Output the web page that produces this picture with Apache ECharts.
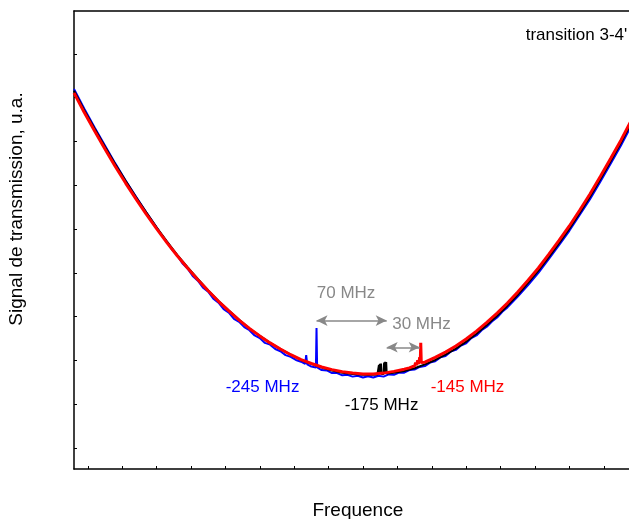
<!DOCTYPE html>
<html><head><meta charset="utf-8">
<script src="https://cdn.jsdelivr.net/npm/echarts@6/dist/echarts.min.js"></script>
<style>html,body{margin:0;padding:0;background:#fff}#c{width:629px;height:519px}</style>
</head><body><div id="c"></div>
<script>
// Frequency (MHz) / signal (u.a.) pairs
const blueCurve = [
[-480,9.20],[-470,8.75],[-460,8.32],[-450,7.91],[-440,7.50],[-430,7.11],[-420,6.74],[-410,6.38],
[-400,6.04],[-395,5.86],[-390,5.71],[-385,5.53],[-380,5.40],[-375,5.22],[-370,5.10],[-365,4.93],
[-360,4.82],[-355,4.66],[-350,4.57],[-345,4.41],[-340,4.32],[-335,4.17],[-330,4.09],[-325,3.95],
[-320,3.88],[-315,3.76],[-310,3.69],[-305,3.57],[-300,3.51],[-295,3.40],[-290,3.36],[-285,3.26],
[-280,3.21],[-275,3.12],[-270,3.08],[-265,3.01],[-260,2.97],[-256,2.92],[-255,3.12],[-254,2.91],
[-250,2.86],[-245.6,2.84],[-245,3.74],[-244.4,2.84],[-240,2.78],[-235,2.77],[-230,2.71],[-225,2.71],
[-220,2.66],[-215,2.67],[-210,2.63],[-205,2.65],[-200,2.61],[-195,2.64],[-190,2.61],[-185,2.65],
[-180,2.63],[-175,2.68],[-170,2.67],[-165,2.72],[-160,2.72],[-155,2.78],[-150,2.79],[-145,2.85],
[-140,2.87],[-135,2.95],[-130,2.98],[-125,3.07],[-120,3.10],[-115,3.20],[-110,3.24],[-105,3.34],
[-100,3.39],[-95,3.51],[-90,3.57],[-85,3.69],[-80,3.77],[-75,3.89],[-70,3.98],[-65,4.11],[-60,4.21],
[-50,4.46],[-40,4.72],[-30,5.00],[-20,5.31],[-10,5.63],[0,5.96],[10,6.32],[20,6.68],[30,7.08],
[40,7.49],[50,7.91],[60,8.36],[70,8.82]
];
const blackCurve = [
[-480,9.16],[-470,8.71],[-460,8.29],[-450,7.88],[-440,7.48],[-430,7.10],[-420,6.73],[-410,6.38],
[-400,6.04],[-390,5.72],[-380,5.41],[-370,5.13],[-360,4.86],[-350,4.60],[-340,4.36],[-330,4.14],
[-320,3.93],[-310,3.73],[-300,3.56],[-290,3.40],[-280,3.26],[-270,3.13],[-260,3.01],[-250,2.92],
[-240,2.84],[-230,2.77],[-220,2.72],[-210,2.69],[-200,2.67],[-190,2.67],[-186,2.68],[-185,2.68],
[-184.5,2.90],[-184,2.69],[-183.5,2.92],[-183,2.69],[-182.5,2.93],[-182,2.69],[-180,2.69],
[-179.5,2.95],[-179,2.70],[-178.5,2.97],[-178,2.70],[-177.5,2.96],[-177,2.70],[-176,2.70],
[-170,2.72],[-160,2.76],[-150,2.82],[-140,2.91],[-130,3.01],[-120,3.13],[-110,3.27],[-100,3.43],
[-90,3.61],[-80,3.81],[-70,4.02],[-60,4.25],[-50,4.50],[-40,4.77],[-30,5.05],[-20,5.36],[-10,5.68],
[0,6.01],[10,6.37],[20,6.74],[30,7.14],[40,7.55],[50,7.97],[60,8.42],[70,8.88]
];
const redCurve = [
[-480,9.11],[-470,8.66],[-460,8.24],[-450,7.83],[-440,7.43],[-430,7.05],[-420,6.69],[-410,6.34],
[-400,6.01],[-390,5.69],[-380,5.39],[-370,5.11],[-360,4.84],[-350,4.59],[-340,4.35],[-330,4.13],
[-320,3.92],[-310,3.73],[-300,3.56],[-290,3.40],[-280,3.26],[-270,3.13],[-260,3.02],[-250,2.93],
[-240,2.85],[-230,2.79],[-220,2.74],[-210,2.71],[-200,2.69],[-190,2.69],[-180,2.71],[-170,2.75],
[-160,2.80],[-155,2.83],[-152,2.86],[-150,2.87],[-149,2.95],[-148,2.89],[-147,3.00],[-146,2.92],
[-145,3.07],[-144.5,2.94],[-144,3.40],[-143.5,2.95],[-143,2.93],[-140,2.96],[-130,3.07],[-120,3.19],
[-110,3.33],[-100,3.49],[-90,3.67],[-80,3.87],[-70,4.08],[-60,4.31],[-50,4.56],[-40,4.83],[-30,5.11],
[-20,5.42],[-10,5.74],[0,6.07],[10,6.43],[20,6.80],[30,7.20],[40,7.61],[50,8.03],[60,8.48],[70,8.94]
];
const xTicks = [-466.67,-433.33,-400,-366.67,-333.33,-300,-266.67,-233.33,-200,-166.67,-133.33,-100,-66.67,-33.33,0,33.33,66.67];
const yTicks = [1,2,3,4,5,6,7,8,9,10];
// annotations: text labels
const annoText = ['-245 MHz','-175 MHz','-145 MHz','70 MHz','30 MHz',"transition 3-4'"];
const annoF = [-297.3,-182,-98.7,-216.4,-143.3,6.9];
const annoU = [2.38,1.98,2.38,4.53,3.82,10.43];
const annoColor = ['#0000ff','#000000','#ff0000','#888888','#888888','#000000'];
// arrows (MHz span, level)
const arrowFrom = [-245,-177];
const arrowTo = [-177,-145];
const arrowU = [3.91,3.30];

const FONT = "'Liberation Sans', Arial, sans-serif";
const chart = echarts.init(document.getElementById('c'), null, {renderer:'canvas'});
const annoData = annoText.map((t,i)=>({value:[annoF[i],annoU[i]], label:{show:true, formatter:t, color:annoColor[i], opacity:1, textBorderWidth:0, position:'inside', fontSize:17, fontFamily:FONT}}));
const arrowData = arrowFrom.map((f,i)=>[{coord:[f,arrowU[i]]},{coord:[arrowTo[i],arrowU[i]]}]);
chart.setOption({
  animation:false,
  backgroundColor:'#fff',
  grid:{left:74, top:11, width:567.6, height:458, containLabel:false, outerBoundsMode:'none'},
  xAxis:[{
    type:'value', min:-480, max:70, position:'bottom',
    name:'Frequence', nameLocation:'middle', nameGap:32,
    nameTextStyle:{fontSize:19, color:'#000', fontFamily:FONT},
    axisLine:{show:true, onZero:false, lineStyle:{color:'#000', width:1.5}},
    axisTick:{show:true, inside:true, length:3, customValues:xTicks, lineStyle:{color:'#000', width:1}},
    axisLabel:{show:false}, splitLine:{show:false}
  },{
    type:'value', min:-480, max:70, position:'top',
    axisLine:{show:true, onZero:false, lineStyle:{color:'#000', width:1.5}},
    axisTick:{show:false}, axisLabel:{show:false}, splitLine:{show:false}
  }],
  yAxis:{
    type:'value', min:0.52, max:10.98,
    axisLine:{show:true, onZero:false, lineStyle:{color:'#000', width:1.5}},
    axisTick:{show:true, inside:true, length:3, customValues:yTicks, lineStyle:{color:'#000', width:1}},
    axisLabel:{show:false}, splitLine:{show:false}
  },
  graphic:[{type:'text', x:17, y:209, rotation:Math.PI/2,
    style:{text:'Signal de transmission, u.a.', fill:'#000', font:'19px '+FONT, align:'center', verticalAlign:'middle'}}],
  series:[
    {type:'line', data:blueCurve, showSymbol:false, symbol:'none', lineStyle:{color:'#0000ff', width:2}, z:2},
    {type:'line', data:blackCurve, showSymbol:false, symbol:'none', lineStyle:{color:'#000000', width:2}, z:3},
    {type:'line', data:redCurve, showSymbol:false, symbol:'none', lineStyle:{color:'#ff0000', width:3}, z:4,
      markLine:{silent:true, symbol:['arrow','arrow'], symbolSize:[8,11], label:{show:false},
        lineStyle:{color:'#888888', width:1.5, type:'solid'}, data:arrowData}},
    {type:'scatter', data:annoData, symbolSize:0, silent:true, z:5}
  ]
});
</script></body></html>
